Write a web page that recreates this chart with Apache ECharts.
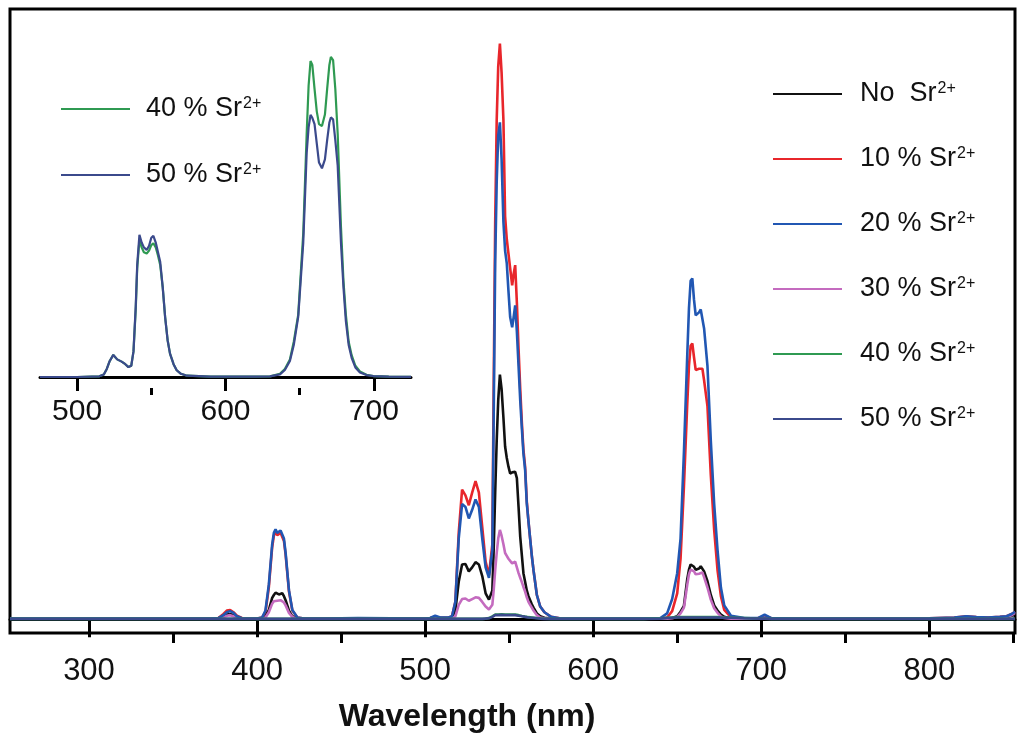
<!DOCTYPE html>
<html>
<head>
<meta charset="utf-8">
<script src="https://cdn.jsdelivr.net/npm/echarts@6/dist/echarts.min.js"></script>
<style>html,body{margin:0;padding:0;background:#fff;}#c{width:1024px;height:741px;}</style>
</head>
<body>
<div id="c"></div>
<script>
// ---------- main spectra (wavelength in nm, intensity in arbitrary units) ----------
const wl = [253,300,350,372,377,380,382,384,386,388,391,395,400,403,405,407,409,410,411,412,413,414,415,416,417,419,421,424,428,440,460,480,500,503,506,509,514,516,518,520,522,524,526,528,530,532,534,536,538,539,540,540.8,541.7,542.6,543.5,544.5,545.5,546.6,547.6,548.6,549.6,550.6,551.8,552.7,553.6,554.6,555.6,556.6,557.6,558.5,559.5,560.5,561.5,562.5,563.5,564.5,566.5,568.5,571,575,580,600,630,640,644,647,650,652,654,656,657,658,659,660,661,662,663,664,665,666,668,670,672,674,676,678,682,690,698,702,706,720,760,800,815,822,828,835,842,846,849,851];

const noSr = [0.1,0.1,0.1,0.1,0.15,0.45,0.8,0.9,0.7,0.35,0.1,0.1,0.1,0.15,0.45,1.6,3.7,4.2,4.6,4.4,4.3,4.6,4.5,4.0,3.3,1.5,0.5,0.15,0.1,0.1,0.1,0.1,0.1,0.15,0.3,0.2,0.2,0.3,1.5,6.5,9.5,9.6,8.3,9,9.9,9.5,7.5,4.5,3.4,3.4,5,12,22,31,38,42.5,40,35,30,28,26.5,25.3,25.5,25.6,25.6,24.5,19.5,14.3,11,8,6.5,5.0,4.0,3.3,2.6,2.0,1.0,0.5,0.25,0.1,0.1,0.1,0.1,0.1,0.1,0.2,0.5,1.3,2.3,7,8.6,9.5,9.7,9.1,8.6,8.5,8.8,9.2,9.1,8.3,6.6,4.2,2.4,1.5,0.8,0.4,0.1,0.1,0.1,0.4,0.1,0.1,0.1,0.12,0.2,0.35,0.25,0.2,0.3,0.35,0.6,0.9];

const sr10 = [0.1,0.1,0.1,0.1,0.2,0.9,1.5,1.6,1.2,0.6,0.2,0.1,0.1,0.3,1.2,5.5,12.5,14.5,15.2,14.6,14.4,15.0,15.0,13.6,11.2,4.8,1.5,0.3,0.1,0.1,0.15,0.12,0.1,0.2,0.4,0.25,0.3,0.5,3,15,22.5,21.5,19.8,22,24,22,16,10,7.6,7.8,13,40,69,86.7,96,100,95,86.7,70,66,63.5,61,58,60,61.5,55,47,40,34,29.5,26.5,20.5,17,14,11,8.5,4.2,2.2,1.2,0.4,0.15,0.1,0.1,0.1,0.3,1.4,4.5,10.5,23,37.5,44,47.5,47.9,45.5,43.3,43,43.5,43.8,43.5,41.5,37,25,15.5,8.5,4,1.6,0.3,0.1,0.15,0.6,0.15,0.1,0.1,0.15,0.3,0.5,0.35,0.3,0.4,0.5,0.9,1.3];

const sr20 = [0.1,0.1,0.1,0.1,0.2,0.7,1.2,1.4,1.1,0.5,0.15,0.1,0.1,0.3,1.5,6,13,15,15.6,15.0,14.8,15.4,15.5,14,11.5,5,1.6,0.3,0.1,0.1,0.2,0.15,0.1,0.2,0.6,0.3,0.3,0.5,3,14,20,19.5,17.5,19,20.8,19.5,14,9,7.2,7.3,12,35,62,76,84,86.3,80,69,64,61.8,57,52.5,50.7,52.5,54.5,50,44,38,33,28.8,26,20.1,17,14,11,8.5,4.2,2.2,1.2,0.4,0.15,0.1,0.1,0.2,1.0,3.5,8,14,29,46,54,58.8,59.2,55.5,52.8,52.6,53.3,53.8,53.5,50.5,44,31,20,12,5.5,2.4,0.6,0.2,0.2,0.8,0.2,0.1,0.1,0.15,0.3,0.5,0.35,0.3,0.4,0.5,0.9,1.3];

const sr30 = [0.1,0.1,0.1,0.1,0.1,0.35,0.6,0.7,0.5,0.25,0.1,0.1,0.1,0.1,0.3,1.2,2.7,3.1,3.3,3.2,3.1,3.3,3.2,2.9,2.4,1.1,0.4,0.1,0.1,0.1,0.1,0.1,0.1,0.1,0.2,0.15,0.15,0.2,0.5,2.5,3.5,3.6,3.2,3.5,3.8,3.7,3.0,2.2,1.7,1.6,2.5,5,8.5,11.5,14,15.5,14.5,13,11.5,11,10.5,10.2,9.7,9.9,10,9,8,7.2,6.4,5.6,4.8,3.8,3.0,2.5,2.0,1.5,0.7,0.3,0.15,0.1,0.1,0.1,0.1,0.1,0.1,0.15,0.4,1.0,2.0,6,7.8,8.6,8.8,8.3,7.8,7.6,7.9,8.2,8.1,7.3,5.5,3.4,1.9,1.1,0.5,0.2,0.1,0.1,0.1,0.3,0.1,0.1,0.1,0.12,0.2,0.35,0.25,0.2,0.3,0.4,0.7,1.1];

const sr40 = [0.05,0.05,0.05,0.05,0.05,0.05,0.05,0.05,0.05,0.05,0.05,0.05,0.05,0.05,0.05,0.05,0.05,0.05,0.05,0.05,0.05,0.05,0.05,0.05,0.05,0.05,0.05,0.05,0.05,0.05,0.05,0.05,0.05,0.05,0.05,0.05,0.05,0.05,0.05,0.05,0.05,0.05,0.05,0.05,0.05,0.05,0.05,0.1,0.2,0.3,0.5,0.7,0.8,0.8,0.8,0.85,0.85,0.85,0.8,0.8,0.8,0.8,0.8,0.8,0.8,0.75,0.7,0.6,0.55,0.5,0.45,0.4,0.35,0.3,0.3,0.25,0.2,0.15,0.1,0.05,0.05,0.05,0.05,0.15,0.25,0.3,0.35,0.35,0.35,0.35,0.35,0.35,0.35,0.35,0.35,0.35,0.35,0.35,0.35,0.35,0.35,0.35,0.35,0.35,0.3,0.3,0.3,0.2,0.1,0.1,0.05,0.05,0.05,0.05,0.05,0.05,0.05,0.05,0.05,0.05,0.05,0.05];

const sr50 = [0.05,0.05,0.05,0.05,0.05,0.05,0.05,0.05,0.05,0.05,0.05,0.05,0.05,0.05,0.05,0.05,0.05,0.05,0.05,0.05,0.05,0.05,0.05,0.05,0.05,0.05,0.05,0.05,0.05,0.05,0.05,0.05,0.05,0.05,0.05,0.05,0.05,0.05,0.05,0.05,0.05,0.05,0.05,0.05,0.05,0.05,0.05,0.1,0.15,0.25,0.4,0.6,0.7,0.7,0.7,0.75,0.75,0.75,0.7,0.7,0.7,0.7,0.7,0.7,0.7,0.65,0.6,0.55,0.5,0.45,0.4,0.35,0.3,0.25,0.25,0.2,0.15,0.1,0.05,0.05,0.05,0.05,0.05,0.1,0.2,0.25,0.3,0.3,0.3,0.3,0.3,0.3,0.3,0.3,0.3,0.3,0.3,0.3,0.3,0.3,0.3,0.3,0.3,0.3,0.25,0.25,0.25,0.15,0.1,0.1,0.05,0.05,0.05,0.05,0.05,0.05,0.05,0.05,0.05,0.05,0.05,0.05];

// ---------- inset spectra (rescaled) ----------
const insetWl = [475,500,515,518,520,522,524.4,527,530,532.5,534.6,536.5,538,539.5,540.5,542,543.5,545,546.9,548.5,550,551.4,553,554.5,556,557.7,559.3,561,562.6,565,567.1,570,574,590,620,630,636.7,640,643.4,646,649,652.4,654.7,656,657.3,658.5,660,661.5,663,665,667,668.5,670,671,672.5,674,675.6,677.8,679.5,681.1,683,685,687.5,690.6,695,699.6,710,725];

const inset40 = [0,0,0.2,0.8,2.5,5,6.9,5.5,4.8,4.0,3.1,3.5,8,21,34,42.8,40.5,39,38.6,39.5,41.2,41.8,40.5,38,35,28,18.8,11.5,7.3,4,2.1,1,0.4,0.1,0.1,0.2,1.0,2.5,5.5,11,19.5,45,76,91,98.75,97.5,90,83,79,78.4,82,90,97.5,100,99,90,76,47,30,19.5,11,6.8,3.5,1.7,0.7,0.3,0.1,0.05];

const inset50 = [0,0,0.2,0.8,2.5,5,6.9,5.5,4.8,4.0,3.1,3.5,8,22,35,44.4,42,40.5,39.7,41,43.5,44.1,42,39,36,28,18.8,11.5,7.3,4,2.1,1,0.4,0.1,0.1,0.2,0.8,2.2,5,10,18.8,42,70,78,81.9,81,79,73,67,65.2,68,74,79.5,81.1,80.5,74,66,42,28,17.5,10,6,3,1.4,0.6,0.3,0.1,0.05];

// ---------- ticks / labels ----------
const mainMajorTicks = [300,400,500,600,700,800];
const mainMinorTicks = [350,450,550,650,750,850];
const insetMajorTicks = [500,600,700];
const insetMinorTicks = [550,650];

const names = ['No  Sr2+','10 % Sr2+','20 % Sr2+','30 % Sr2+','40 % Sr2+','50 % Sr2+'];
const colors = ['#111111','#e8262b','#2157b3','#c46bbf','#2f9a52','#3b4a8c'];
const mainSets = [noSr, sr10, sr20, sr30, sr40, sr50];
const drawOrder = [1,0,3,2,4,5];

const FONT = 'Liberation Sans, Arial, Helvetica, sans-serif';

function pairs(xs, ys){ return xs.map((x,i)=>[x, ys[i]]); }

const legendFormatter = function(name){
  return '{a|' + name.replace(/2\+$/, '') + '}{s|2+}';
};
const supStyle = {fontSize: 16, fontFamily: FONT, color: '#111', verticalAlign: 'top', lineHeight: 17, padding: [2,0,0,1]};

const legends = [];
const mainRows = [94,159,224,289,354,419];
names.forEach((n,i)=>{
  legends.push({
    data: [n], left: 773, top: mainRows[i]-15, orient: 'vertical', padding: 0,
    icon: 'rect', itemWidth: 69, itemHeight: 2,
    formatter: legendFormatter,
    textStyle: {rich: {
      a: {fontSize: 27, fontFamily: FONT, color: '#111', lineHeight: 30, padding: [0,0,0,13]},
      s: supStyle
    }}, selectedMode: false
  });
});
const insetRows = [109,175];
['40 % Sr2+','50 % Sr2+'].forEach((n,i)=>{
  legends.push({
    data: [n], left: 61, top: insetRows[i]-15, orient: 'vertical', padding: 0,
    icon: 'rect', itemWidth: 69, itemHeight: 2,
    formatter: legendFormatter,
    textStyle: {rich: {
      a: {fontSize: 27, fontFamily: FONT, color: '#111', lineHeight: 30, padding: [0,0,0,11]},
      s: supStyle
    }}, selectedMode: false
  });
});

const series = [];
drawOrder.forEach(i=>{
  series.push({
    name: names[i], type: 'line', xAxisIndex: 0, yAxisIndex: 0,
    data: pairs(wl, mainSets[i]), showSymbol: false, symbol: 'none',
    color: colors[i], lineStyle: {color: colors[i], width: 2.6}, animation: false, silent: true
  });
});
series.push({
  name: '40 % Sr2+', type: 'line', xAxisIndex: 2, yAxisIndex: 1,
  data: pairs(insetWl, inset40), showSymbol: false, symbol: 'none',
  color: colors[4], lineStyle: {color: colors[4], width: 2.2}, animation: false, silent: true
});
series.push({
  name: '50 % Sr2+', type: 'line', xAxisIndex: 2, yAxisIndex: 1,
  data: pairs(insetWl, inset50), showSymbol: false, symbol: 'none',
  color: colors[5], lineStyle: {color: colors[5], width: 2.2}, animation: false, silent: true
});

const chart = echarts.init(document.getElementById('c'), null, {renderer: 'canvas'});
chart.setOption({
  animation: false,
  backgroundColor: '#ffffff',
  grid: [
    {left: 10, right: 9, top: 9, bottom: 108, show: true, borderColor: '#000', borderWidth: 3, backgroundColor: 'transparent'},
    {left: 40, right: 613, top: 40, bottom: 353, show: false}
  ],
  xAxis: [
    {type: 'value', gridIndex: 0, position: 'bottom', min: 253, max: 851,
     axisLine: {show: true, lineStyle: {color: '#000', width: 3}},
     axisTick: {show: true, customValues: mainMajorTicks, length: 18, lineStyle: {color: '#000', width: 3}},
     axisLabel: {show: true, customValues: mainMajorTicks, fontSize: 31, fontFamily: FONT, color: '#111', margin: 23},
     splitLine: {show: false}},
    {type: 'value', gridIndex: 0, position: 'bottom', min: 253, max: 851,
     axisLine: {show: false},
     axisTick: {show: true, customValues: mainMinorTicks, length: 10, lineStyle: {color: '#000', width: 3}},
     axisLabel: {show: false}, splitLine: {show: false}},
    {type: 'value', gridIndex: 1, position: 'bottom', min: 475, max: 725,
     axisLine: {show: true, lineStyle: {color: '#000', width: 3}},
     axisTick: {show: true, customValues: insetMajorTicks, length: 14, lineStyle: {color: '#000', width: 3}},
     axisLabel: {show: true, customValues: insetMajorTicks, fontSize: 30, fontFamily: FONT, color: '#111', margin: 9},
     splitLine: {show: false}},
    {type: 'value', gridIndex: 1, position: 'bottom', min: 475, max: 725,
     axisLine: {show: false},
     axisTick: {show: true, customValues: insetMinorTicks, length: 7, lineStyle: {color: '#000', width: 3}},
     axisLabel: {show: false}, splitLine: {show: false}}
  ],
  yAxis: [
    {type: 'value', gridIndex: 0, min: -2.4, max: 106, show: false},
    {type: 'value', gridIndex: 1, min: -3.44, max: 105.3, show: false}
  ],
  legend: legends,
  graphic: [{
    type: 'text', x: 467, y: 717, silent: true,
    style: {text: 'Wavelength (nm)', fill: '#111', font: 'bold 32px ' + FONT, align: 'center', verticalAlign: 'middle', textAlign: 'center', textVerticalAlign: 'middle'}
  }],
  series: series
});
</script>
</body>
</html>
